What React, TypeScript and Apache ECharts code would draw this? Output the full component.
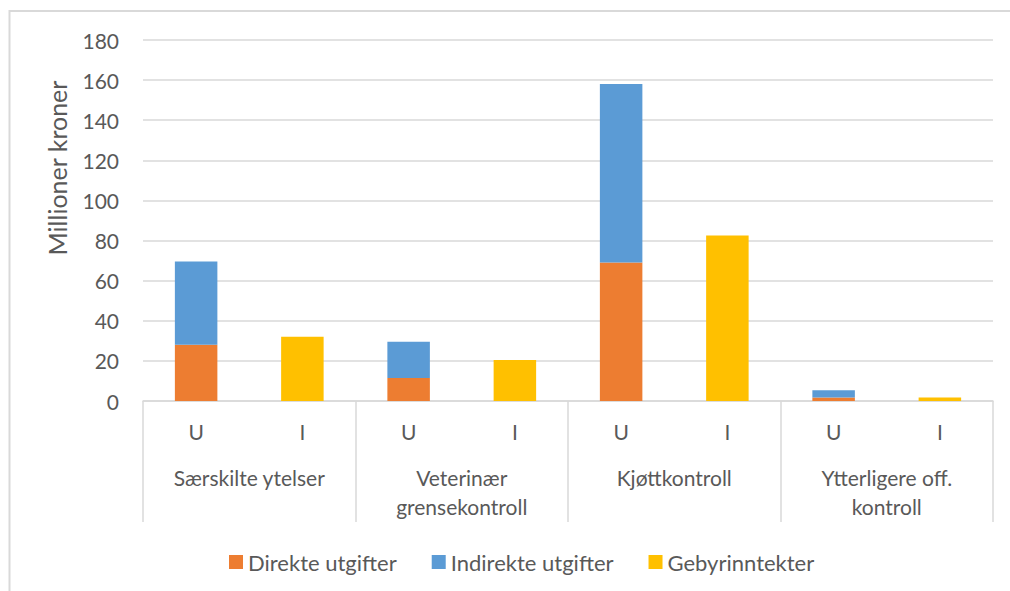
import React, { useEffect, useRef } from "react";
import * as echarts from "echarts";

const categories = ["U", "I", "U", "I", "U", "I", "U", "I"];
const groups = [
  "Særskilte ytelser",
  "Veterinær\ngrensekontroll",
  "Kjøttkontroll",
  "Ytterligere off.\nkontroll",
];
const direkte = [28, null, 11.5, null, 69, null, 1.8, null];
const indirekte = [41.5, null, 18, null, 89, null, 3.5, null];
const gebyr = [null, 32, null, 20.5, null, 82.5, null, 1.8];
const seriesNames = ["Direkte utgifter", "Indirekte utgifter", "Gebyrinntekter"];
const colors = ["#ED7D31", "#5B9BD5", "#FFC000"];
const yTicks = { min: 0, max: 180, interval: 20 };
const yTitle = "Millioner kroner";

const FONT = "Lato, 'Open Sans', sans-serif";
const TXT = "#595959";
const GRID = "#d9d9d9";

export default function App() {
  const ref = useRef<HTMLDivElement>(null);
  useEffect(() => {
    if (!ref.current) return;
    const chart = echarts.init(ref.current, null, { renderer: "svg" });
    const mk = (i: number, data: (number | null)[]) => ({
      name: seriesNames[i],
      type: "bar",
      stack: "s",
      data,
      barWidth: "40%",
      itemStyle: { color: colors[i] },
      xAxisIndex: 0,
      yAxisIndex: 0,
    });
    chart.setOption({
      animation: false,
      textStyle: { fontFamily: FONT },
      grid: { left: 143, right: 17, top: 40, bottom: 190 },
      graphic: [
        {
          type: "rect",
          shape: { x: 9.5, y: 11, width: 1100, height: 700 },
          style: { fill: "none", stroke: GRID, lineWidth: 2 },
          silent: true,
          z: -10,
        },
        {
          type: "text",
          x: 57,
          y: 168,
          rotation: Math.PI / 2,
          style: {
            text: yTitle,
            fill: TXT,
            font: `25px ${FONT}`,
            align: "center",
            verticalAlign: "middle",
          },
        },
      ],
      legend: {
        data: seriesNames,
        left: 224,
        top: 546,
        icon: "rect",
        itemWidth: 14,
        itemHeight: 14,
        itemGap: 35,
        textStyle: { color: TXT, fontSize: 22, fontFamily: FONT },
      },
      xAxis: [
        {
          type: "category",
          data: categories,
          position: "bottom",
          axisLine: { show: true, lineStyle: { color: GRID, width: 1.5 } },
          axisTick: { show: false },
          axisLabel: { interval: 0, margin: 20, color: TXT, fontSize: 21, fontFamily: FONT },
          splitLine: { show: false },
        },
        {
          type: "category",
          data: groups,
          position: "bottom",
          axisLine: { show: false },
          axisTick: { show: true, length: 121, lineStyle: { color: GRID, width: 1.5 } },
          axisLabel: {
            interval: 0,
            margin: 62,
            color: TXT,
            fontSize: 21,
            lineHeight: 29,
            fontFamily: FONT,
          },
          splitLine: { show: false },
        },
      ],
      yAxis: {
        type: "value",
        min: yTicks.min,
        max: yTicks.max,
        interval: yTicks.interval,
        axisLine: { show: false },
        axisTick: { show: false },
        axisLabel: { color: TXT, fontSize: 21, margin: 24, fontFamily: FONT },
        splitLine: { lineStyle: { color: GRID, width: 1.5 } },
      },
      series: [mk(0, direkte), mk(1, indirekte), mk(2, gebyr)],
    });
    return () => chart.dispose();
  }, []);
  return (
    <div
      ref={ref}
      style={{ position: "fixed", left: 0, top: 0, width: 1010, height: 591, background: "#fff" }}
    />
  );
}
